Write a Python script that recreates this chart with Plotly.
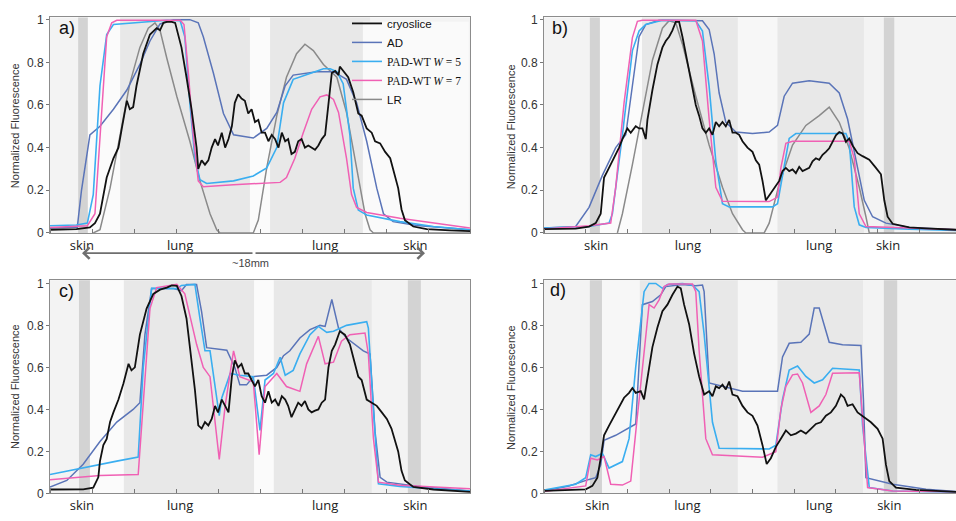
import plotly.graph_objects as go

# ---------------- data: normalized fluorescence profiles across the torso ----------------
# panel a
a_cryo_x = [0, 0.63, 0.95, 1.07, 1.19, 1.35, 1.51, 1.63, 1.71, 1.83, 1.9, 1.98, 2.06, 2.22, 2.38, 2.54, 2.62, 2.7, 2.78, 2.9,
            2.98, 3.06, 3.13, 3.25, 3.37, 3.49, 3.53, 3.61, 3.69, 3.77, 3.85, 3.93, 4.0, 4.09, 4.17, 4.25, 4.33, 4.4, 4.48, 4.56,
            4.64, 4.72, 4.8, 4.88, 4.96, 5.04, 5.12, 5.2, 5.28, 5.36, 5.44, 5.52, 5.6, 5.67, 5.75, 5.83, 5.91, 5.99, 6.07, 6.15,
            6.23, 6.31, 6.39, 6.47, 6.55, 6.63, 6.71, 6.79, 6.87, 6.9, 6.98, 7.1, 7.22, 7.34, 7.42, 7.54, 7.66, 7.74, 7.86, 7.98,
            8.1, 8.21, 8.29, 8.37, 8.45, 8.65, 8.97, 9.52, 10]
a_cryo_y = [0.015, 0.018, 0.026, 0.046, 0.09, 0.26, 0.35, 0.40, 0.49, 0.62, 0.58, 0.59, 0.69, 0.84, 0.93, 0.96, 0.95, 0.985, 0.99, 0.99,
            0.985, 0.93, 0.87, 0.73, 0.58, 0.40, 0.30, 0.34, 0.32, 0.34, 0.40, 0.44, 0.41, 0.47, 0.40, 0.44, 0.50, 0.61, 0.65, 0.63,
            0.62, 0.56, 0.58, 0.52, 0.53, 0.47, 0.47, 0.43, 0.46, 0.44, 0.40, 0.47, 0.43, 0.44, 0.37, 0.38, 0.43, 0.44, 0.40, 0.41,
            0.40, 0.39, 0.41, 0.44, 0.46, 0.61, 0.75, 0.76, 0.74, 0.78, 0.76, 0.73, 0.66, 0.56, 0.55, 0.49, 0.47, 0.43, 0.42, 0.38,
            0.35, 0.27, 0.21, 0.11, 0.06, 0.03, 0.018, 0.012, 0.008]
a_ad_x = [0, 0.65, 0.75, 0.95, 1.19, 1.51, 1.83, 2.14, 2.38, 2.62, 2.94, 3.33, 3.53, 3.65, 3.89, 4.13, 4.37, 4.84, 5.16, 5.4,
          5.6, 5.79, 6.35, 6.75, 7.06, 7.3, 7.54, 7.78, 7.94, 8.17, 8.73, 9.52, 10]
a_ad_y = [0.023, 0.027, 0.2, 0.46, 0.50, 0.58, 0.67, 0.79, 0.90, 0.98, 1.0, 1.0, 0.985, 0.92, 0.75, 0.56, 0.46, 0.445, 0.49, 0.565,
          0.69, 0.74, 0.756, 0.756, 0.72, 0.61, 0.43, 0.21, 0.09, 0.053, 0.035, 0.023, 0.015]
a_w5_x = [0, 0.63, 0.89, 1.03, 1.19, 1.35, 1.51, 1.98, 2.78, 3.1, 3.21, 3.33, 3.45, 3.57, 3.73, 4.37, 4.84, 5.16, 5.4, 5.56,
          5.79, 6.19, 6.51, 6.67, 6.83, 6.98, 7.14, 7.22, 7.34, 7.54, 8.33, 9.13, 10]
a_w5_y = [0.034, 0.037, 0.046, 0.18, 0.69, 0.93, 0.977, 0.985, 0.997, 0.995, 0.92, 0.61, 0.35, 0.25, 0.232, 0.244, 0.267, 0.305, 0.40, 0.61,
          0.72, 0.748, 0.77, 0.77, 0.756, 0.70, 0.46, 0.21, 0.107, 0.084, 0.053, 0.03, 0.015]
a_w7_x = [0, 0.89, 1.07, 1.19, 1.35, 1.47, 1.59, 3.1, 3.19, 3.29, 3.41, 3.53, 3.65, 4.37, 5.16, 5.48, 5.63, 5.83, 6.03, 6.23,
          6.43, 6.59, 6.75, 6.87, 7.06, 7.18, 7.3, 7.54, 8.33, 9.13, 10]
a_w7_y = [0.026, 0.034, 0.09, 0.46, 0.92, 0.985, 0.997, 0.997, 0.977, 0.76, 0.46, 0.244, 0.217, 0.226, 0.232, 0.237, 0.26, 0.35, 0.47, 0.58,
          0.638, 0.647, 0.626, 0.565, 0.35, 0.18, 0.12, 0.096, 0.069, 0.046, 0.023]
a_lr_x = [1.03, 1.19, 1.43, 1.67, 1.9, 2.14, 2.34, 2.5, 2.62, 2.78, 3.02, 3.33, 3.57, 3.81, 3.97, 4.05, 4.84, 4.96, 5.16, 5.4,
          5.63, 5.87, 6.07, 6.27, 6.51, 6.83, 7.06, 7.3, 7.5, 7.62, 7.7, 10]
a_lr_y = [0, 0.015, 0.21, 0.46, 0.70, 0.87, 0.96, 0.985, 0.95, 0.82, 0.64, 0.43, 0.244, 0.09, 0.015, 0, 0, 0.06, 0.305, 0.55,
          0.73, 0.84, 0.885, 0.855, 0.79, 0.73, 0.565, 0.305, 0.09, 0.015, 0, 0]

# panel b
b_cryo_x = [0, 0.76, 1.08, 1.24, 1.36, 1.44, 1.52, 1.6, 1.72, 1.8, 1.88, 2.0, 2.08, 2.2, 2.28, 2.36, 2.44, 2.48, 2.6, 2.72,
            2.84, 2.92, 3.0, 3.08, 3.16, 3.24, 3.32, 3.4, 3.52, 3.64, 3.72, 3.8, 3.88, 3.96, 4.04, 4.12, 4.2, 4.28, 4.36, 4.44,
            4.52, 4.6, 4.68, 4.76, 4.88, 5.0, 5.08, 5.16, 5.24, 5.32, 5.4, 5.52, 5.64, 5.72, 5.8, 5.88, 5.96, 6.04, 6.12, 6.2,
            6.28, 6.36, 6.44, 6.52, 6.6, 6.68, 6.76, 6.84, 6.92, 7.0, 7.08, 7.16, 7.24, 7.32, 7.4, 7.52, 7.64, 7.8, 7.96, 8.08,
            8.16, 8.24, 8.36, 8.76, 9.16, 9.88]
b_cryo_y = [0.018, 0.02, 0.03, 0.046, 0.09, 0.26, 0.29, 0.32, 0.37, 0.40, 0.44, 0.49, 0.47, 0.50, 0.49, 0.49, 0.44, 0.53, 0.67, 0.79,
            0.87, 0.90, 0.92, 0.95, 0.99, 0.99, 0.92, 0.84, 0.72, 0.60, 0.55, 0.49, 0.47, 0.49, 0.46, 0.52, 0.50, 0.52, 0.50, 0.53,
            0.47, 0.47, 0.46, 0.43, 0.40, 0.38, 0.34, 0.32, 0.244, 0.153, 0.176, 0.21, 0.244, 0.29, 0.305, 0.29, 0.298, 0.28, 0.31, 0.29,
            0.298, 0.305, 0.336, 0.35, 0.343, 0.366, 0.38, 0.397, 0.427, 0.458, 0.473, 0.466, 0.427, 0.443, 0.41, 0.374, 0.36, 0.343, 0.305, 0.275,
            0.153, 0.076, 0.043, 0.026, 0.021, 0.015]
b_ad_x = [0, 0.76, 1.08, 1.4, 1.72, 1.96, 2.12, 2.28, 2.44, 2.76, 3.8, 3.96, 4.08, 4.2, 4.36, 4.6, 5.0, 5.4, 5.6, 5.76,
          5.96, 6.36, 6.84, 7.08, 7.28, 7.48, 7.68, 7.88, 8.2, 8.76, 9.88]
b_ad_y = [0.023, 0.03, 0.12, 0.27, 0.40, 0.46, 0.69, 0.92, 0.977, 0.997, 0.995, 0.954, 0.84, 0.656, 0.519, 0.473, 0.466, 0.473, 0.504, 0.641,
          0.702, 0.714, 0.702, 0.656, 0.534, 0.336, 0.153, 0.076, 0.046, 0.026, 0.015]
b_w5_x = [0, 1.08, 1.56, 1.64, 1.88, 2.12, 2.28, 2.44, 2.84, 3.64, 3.8, 3.96, 4.12, 4.28, 4.44, 5.48, 5.6, 5.72, 5.88, 6.04,
          7.24, 7.32, 7.44, 7.56, 7.72, 8.76, 9.88]
b_w5_y = [0.023, 0.03, 0.046, 0.09, 0.46, 0.855, 0.947, 0.977, 0.997, 0.995, 0.947, 0.687, 0.336, 0.137, 0.122, 0.122, 0.137, 0.275, 0.443, 0.466,
          0.466, 0.427, 0.122, 0.038, 0.026, 0.018, 0.012]
b_w7_x = [0, 1.08, 1.6, 1.72, 1.92, 2.12, 2.24, 2.36, 3.64, 3.8, 3.96, 4.12, 4.28, 5.4, 5.6, 5.68, 5.8, 5.96, 7.32, 7.44,
          7.56, 7.72, 8.76, 9.88]
b_w7_y = [0.018, 0.034, 0.046, 0.214, 0.61, 0.916, 0.992, 0.997, 0.997, 0.90, 0.534, 0.214, 0.148, 0.147, 0.168, 0.305, 0.42, 0.43, 0.43, 0.35,
          0.09, 0.03, 0.023, 0.015]
b_lr_x = [1.76, 1.88, 2.12, 2.36, 2.6, 2.84, 3.0, 3.16, 3.32, 3.64, 3.96, 4.28, 4.52, 4.76, 4.84, 5.28, 5.4, 5.64, 5.96, 6.28,
          6.6, 6.84, 7.08, 7.32, 7.56, 7.72, 7.8, 9.88]
b_lr_y = [0, 0.09, 0.32, 0.565, 0.81, 0.96, 0.995, 0.985, 0.885, 0.641, 0.412, 0.214, 0.09, 0.015, 0, 0, 0.046, 0.229, 0.412, 0.504,
          0.55, 0.59, 0.519, 0.397, 0.214, 0.076, 0, 0]

# panel c
c_cryo_x = [0, 0.79, 1.03, 1.15, 1.19, 1.27, 1.35, 1.43, 1.51, 1.63, 1.75, 1.87, 1.94, 2.02, 2.14, 2.3, 2.46, 2.62, 2.78, 2.9,
            3.02, 3.13, 3.25, 3.37, 3.45, 3.53, 3.61, 3.69, 3.77, 3.85, 3.93, 4.0, 4.09, 4.17, 4.25, 4.33, 4.4, 4.48, 4.56, 4.64,
            4.72, 4.8, 4.88, 4.96, 5.04, 5.12, 5.2, 5.28, 5.36, 5.44, 5.52, 5.6, 5.67, 5.75, 5.83, 5.91, 5.99, 6.07, 6.15, 6.23,
            6.31, 6.39, 6.47, 6.55, 6.63, 6.71, 6.79, 6.9, 7.02, 7.14, 7.26, 7.34, 7.42, 7.54, 7.66, 7.78, 7.9, 8.02, 8.13, 8.21,
            8.29, 8.37, 8.45, 8.65, 9.13, 10]
c_cryo_y = [0.019, 0.02, 0.028, 0.077, 0.154, 0.23, 0.26, 0.34, 0.386, 0.447, 0.525, 0.617, 0.586, 0.60, 0.756, 0.88, 0.95, 0.97, 0.98, 0.99,
            0.988, 0.94, 0.833, 0.633, 0.494, 0.324, 0.309, 0.34, 0.324, 0.355, 0.417, 0.386, 0.447, 0.417, 0.386, 0.556, 0.633, 0.60, 0.617, 0.571,
            0.571, 0.54, 0.51, 0.54, 0.463, 0.432, 0.486, 0.432, 0.447, 0.417, 0.463, 0.447, 0.417, 0.363, 0.40, 0.432, 0.417, 0.44, 0.40, 0.386,
            0.394, 0.40, 0.432, 0.447, 0.60, 0.679, 0.71, 0.772, 0.756, 0.71, 0.617, 0.556, 0.54, 0.447, 0.432, 0.417, 0.386, 0.355, 0.309, 0.255,
            0.20, 0.108, 0.062, 0.031, 0.019, 0.008]
c_ad_x = [0, 0.4, 0.79, 1.19, 1.59, 1.98, 2.14, 2.26, 2.42, 2.94, 3.13, 3.25, 3.49, 3.61, 3.73, 4.21, 4.4, 4.52, 4.68, 4.84,
          5.16, 5.4, 5.56, 5.71, 5.95, 6.19, 6.43, 6.55, 6.71, 6.87, 7.06, 7.46, 7.62, 7.74, 7.86, 8.02, 8.73, 10]
c_ad_y = [0.031, 0.062, 0.139, 0.247, 0.34, 0.40, 0.432, 0.756, 0.975, 0.975, 0.965, 0.995, 0.995, 0.864, 0.694, 0.682, 0.60, 0.517, 0.517, 0.556,
          0.563, 0.60, 0.656, 0.679, 0.74, 0.78, 0.80, 0.795, 0.923, 0.787, 0.74, 0.679, 0.664, 0.293, 0.077, 0.054, 0.034, 0.012]
c_w5_x = [0, 0.79, 1.59, 2.1, 2.22, 2.42, 3.02, 3.13, 3.45, 3.57, 3.69, 3.81, 3.89, 4.03, 4.09, 4.29, 4.52, 4.84, 5.0, 5.12,
          5.32, 5.48, 5.6, 5.79, 5.95, 6.19, 6.39, 6.59, 6.75, 7.06, 7.54, 7.58, 7.7, 7.82, 8.33, 9.13, 10]
c_w5_y = [0.09, 0.123, 0.154, 0.173, 0.60, 0.977, 0.975, 0.99, 0.995, 0.833, 0.679, 0.679, 0.571, 0.37, 0.455, 0.571, 0.563, 0.556, 0.30, 0.54,
          0.571, 0.648, 0.563, 0.586, 0.664, 0.756, 0.795, 0.767, 0.772, 0.80, 0.818, 0.787, 0.40, 0.046, 0.034, 0.023, 0.011]
c_w7_x = [0, 1.19, 2.1, 2.22, 2.38, 2.54, 3.02, 3.21, 3.4, 3.49, 3.65, 3.81, 4.03, 4.17, 4.37, 4.52, 4.84, 4.98, 5.12, 5.4,
          5.63, 5.95, 6.11, 6.39, 6.55, 6.75, 6.94, 7.14, 7.5, 7.58, 7.7, 7.82, 8.33, 9.13, 10]
c_w7_y = [0.065, 0.085, 0.09, 0.447, 0.88, 0.98, 0.995, 0.95, 0.787, 0.71, 0.60, 0.556, 0.162, 0.417, 0.679, 0.556, 0.532, 0.185, 0.509, 0.571,
          0.509, 0.486, 0.617, 0.748, 0.617, 0.625, 0.725, 0.756, 0.764, 0.664, 0.262, 0.054, 0.039, 0.031, 0.023]

# panel d
d_cryo_x = [0, 0.76, 1.0, 1.16, 1.28, 1.36, 1.44, 1.56, 1.68, 1.8, 1.92, 2.04, 2.12, 2.2, 2.32, 2.4, 2.48, 2.6, 2.72, 2.84,
            2.96, 3.08, 3.2, 3.28, 3.36, 3.48, 3.6, 3.72, 3.84, 3.96, 4.04, 4.12, 4.2, 4.28, 4.36, 4.44, 4.52, 4.64, 4.76, 4.88,
            5.0, 5.12, 5.24, 5.34, 5.44, 5.56, 5.68, 5.8, 5.92, 6.04, 6.16, 6.28, 6.4, 6.52, 6.64, 6.76, 6.88, 7.0, 7.12, 7.2,
            7.28, 7.4, 7.52, 7.68, 7.84, 8.0, 8.12, 8.2, 8.28, 8.44, 8.92, 9.88]
d_cryo_y = [0.012, 0.016, 0.02, 0.036, 0.075, 0.168, 0.277, 0.323, 0.37, 0.417, 0.456, 0.479, 0.502, 0.479, 0.487, 0.448, 0.557, 0.697, 0.79, 0.868,
            0.899, 0.946, 0.985, 0.977, 0.899, 0.806, 0.666, 0.557, 0.471, 0.487, 0.463, 0.51, 0.502, 0.518, 0.495, 0.533, 0.471, 0.463, 0.417, 0.386,
            0.37, 0.323, 0.23, 0.14, 0.168, 0.222, 0.261, 0.30, 0.277, 0.285, 0.30, 0.285, 0.308, 0.331, 0.339, 0.37, 0.386, 0.417, 0.471, 0.456,
            0.417, 0.425, 0.386, 0.362, 0.339, 0.308, 0.261, 0.137, 0.059, 0.028, 0.017, 0.008]
d_ad_x = [0, 0.6, 1.08, 1.24, 1.36, 1.44, 1.72, 2.2, 2.36, 2.6, 2.8, 2.92, 3.32, 3.64, 3.8, 3.84, 3.96, 4.12, 4.76, 5.6,
          5.72, 5.88, 6.16, 6.36, 6.48, 6.6, 6.84, 7.16, 7.6, 7.66, 7.72, 8.36, 9.16, 9.88]
d_ad_y = [0.012, 0.036, 0.067, 0.075, 0.137, 0.253, 0.277, 0.331, 0.899, 0.914, 0.946, 0.985, 0.995, 0.989, 0.992, 0.961, 0.526, 0.518, 0.487, 0.487,
          0.65, 0.715, 0.72, 0.759, 0.883, 0.883, 0.72, 0.708, 0.705, 0.448, 0.075, 0.044, 0.02, 0.009]
d_w5_x = [0, 0.76, 1.0, 1.12, 1.24, 1.4, 1.56, 1.88, 2.04, 2.2, 2.4, 2.52, 2.68, 2.84, 2.96, 3.32, 3.56, 3.72, 3.84, 4.04,
          4.2, 5.4, 5.56, 5.72, 5.88, 6.08, 6.28, 6.48, 6.68, 6.92, 7.56, 7.64, 7.8, 8.36, 9.88]
d_w5_y = [0.016, 0.044, 0.075, 0.184, 0.176, 0.191, 0.121, 0.152, 0.261, 0.603, 0.961, 1.0, 1.0, 0.977, 0.995, 1.0, 0.992, 0.961, 0.759, 0.339,
          0.215, 0.212, 0.23, 0.448, 0.588, 0.607, 0.557, 0.526, 0.541, 0.596, 0.588, 0.323, 0.028, 0.012, 0.006]
d_w7_x = [0, 0.76, 1.0, 1.12, 1.28, 1.44, 1.6, 1.88, 2.08, 2.2, 2.36, 2.52, 2.64, 2.76, 2.88, 3.0, 3.56, 3.64, 3.72, 3.88,
          4.04, 5.24, 5.56, 5.68, 5.8, 5.96, 6.08, 6.2, 6.4, 6.6, 6.76, 6.92, 7.56, 7.64, 7.76, 8.36, 9.88]
d_w7_y = [0.009, 0.028, 0.036, 0.168, 0.16, 0.176, 0.044, 0.04, 0.059, 0.292, 0.603, 0.899, 0.883, 0.922, 0.985, 0.997, 0.997, 0.961, 0.681, 0.261,
          0.184, 0.173, 0.199, 0.401, 0.51, 0.565, 0.569, 0.526, 0.386, 0.417, 0.471, 0.572, 0.575, 0.355, 0.028, 0.012, 0.008]

# tissue annotations along each profile
a_labels_x = [0.76, 3.1, 6.55, 8.7]
b_labels_x = [1.25, 3.45, 6.6, 8.25]
c_labels_x = [0.76, 3.1, 6.55, 8.7]
d_labels_x = [1.28, 3.44, 6.6, 8.28]
tissue_labels = ["skin", "lung", "lung", "skin"]
y_ticks = [0, 0.2, 0.4, 0.6, 0.8, 1.0]
y_tick_text = ["0", "0.2", "0.4", "0.6", "0.8", "1"]

for xs, ys in [(a_cryo_x, a_cryo_y), (a_ad_x, a_ad_y), (a_w5_x, a_w5_y), (a_w7_x, a_w7_y), (a_lr_x, a_lr_y),
               (b_cryo_x, b_cryo_y), (b_ad_x, b_ad_y), (b_w5_x, b_w5_y), (b_w7_x, b_w7_y), (b_lr_x, b_lr_y),
               (c_cryo_x, c_cryo_y), (c_ad_x, c_ad_y), (c_w5_x, c_w5_y), (c_w7_x, c_w7_y),
               (d_cryo_x, d_cryo_y), (d_ad_x, d_ad_y), (d_w5_x, d_w5_y), (d_w7_x, d_w7_y)]:
    assert len(xs) == len(ys), (len(xs), len(ys))

# ---------------- styling ----------------
W, H = 956, 521
C_CRYO = "#111111"
C_AD = "#5a74b8"
C_W5 = "#3aaef0"
C_W7 = "#f060b4"
C_LR = "#8a8a8a"
BASE = "#f3f3f3"
LIGHT = "#fbfbfb"
LUNG = "#e8e8e8"
SKIN = "#d3d3d3"
SERIF = "Liberation Serif"

legend_names = {
    "cryo": "cryoslice",
    "ad": "AD",
    "w5": f'<span style="font-family:{SERIF}">PAD-WT <i>W</i> = 5</span>',
    "w7": f'<span style="font-family:{SERIF}">PAD-WT <i>W</i> = 7</span>',
    "lr": "LR",
}


def px_x(p):
    return p / W


def px_y(p):
    return (H - p) / H


fig = go.Figure()

panels = [
    dict(ax="", series=[("lr", a_lr_x, a_lr_y), ("ad", a_ad_x, a_ad_y), ("w5", a_w5_x, a_w5_y), ("w7", a_w7_x, a_w7_y), ("cryo", a_cryo_x, a_cryo_y)]),
    dict(ax="2", series=[("lr", b_lr_x, b_lr_y), ("ad", b_ad_x, b_ad_y), ("w5", b_w5_x, b_w5_y), ("w7", b_w7_x, b_w7_y), ("cryo", b_cryo_x, b_cryo_y)]),
    dict(ax="3", series=[("ad", c_ad_x, c_ad_y), ("w5", c_w5_x, c_w5_y), ("w7", c_w7_x, c_w7_y), ("cryo", c_cryo_x, c_cryo_y)]),
    dict(ax="4", series=[("ad", d_ad_x, d_ad_y), ("w5", d_w5_x, d_w5_y), ("w7", d_w7_x, d_w7_y), ("cryo", d_cryo_x, d_cryo_y)]),
]
colors = {"cryo": C_CRYO, "ad": C_AD, "w5": C_W5, "w7": C_W7, "lr": C_LR}
widths = {"cryo": 1.8, "ad": 1.5, "w5": 1.6, "w7": 1.5, "lr": 1.5}
legend_order = {"cryo": 1, "ad": 2, "w5": 3, "w7": 4, "lr": 5}

for i, p in enumerate(panels):
    for key, xs, ys in p["series"]:
        fig.add_trace(go.Scatter(
            x=xs, y=ys, mode="lines", name=legend_names[key],
            line=dict(color=colors[key], width=widths[key]),
            xaxis="x" + p["ax"], yaxis="y" + p["ax"],
            showlegend=(i == 0), legendrank=legend_order[key],
        ))

# background bands: (x0, x1, colour, y_top)
a_bands = [(0.9, 1.67, LIGHT, 1.02), (0.67, 0.9, SKIN, 1.02), (1.67, 4.76, LUNG, 1.02), (4.76, 5.24, LIGHT, 1.02),
           (5.24, 7.62, LUNG, 1.02), (8.52, 8.81, SKIN, 0.69), (7.45, 9.97, "#fafafa", 0.99)]
b_bands = [(1.34, 2.35, LIGHT, 1.02), (1.1, 1.34, SKIN, 1.02), (2.35, 4.65, LUNG, 1.02), (4.65, 5.6, "#f7f7f7", 1.02),
           (5.6, 7.67, LUNG, 1.02), (8.15, 8.4, SKIN, 1.02)]
c_bands = [(0.95, 1.76, LIGHT, 1.02), (0.69, 0.95, SKIN, 1.02), (1.76, 4.86, LUNG, 1.02), (4.86, 5.33, LIGHT, 1.02),
           (5.33, 7.66, LUNG, 1.02), (8.52, 8.83, SKIN, 1.02)]
d_bands = [(1.39, 2.3, "#f7f7f7", 1.02), (1.1, 1.39, SKIN, 1.02), (2.3, 4.65, LUNG, 1.02), (4.65, 5.6, "#f7f7f7", 1.02),
           (5.6, 7.65, LUNG, 1.02), (8.15, 8.47, SKIN, 1.02)]

shapes = []
for ax, bands in [("", a_bands), ("2", b_bands), ("3", c_bands), ("4", d_bands)]:
    for x0, x1, col, ytop in bands:
        shapes.append(dict(type="rect", xref="x" + ax, yref="y" + ax, x0=x0, x1=x1, y0=0, y1=ytop,
                           fillcolor=col, line=dict(width=0), layer="below"))

# domains in pixels
dom_x_left = [px_x(50), px_x(470)]
dom_x_right = [px_x(544), 1.0]
dom_y_top = [px_y(233.3), px_y(12.7)]
dom_y_bot = [px_y(500), px_y(281.7)]

axis_font = dict(family="Liberation Sans, Arial, sans-serif", size=12, color="#333333")
label_font = dict(family="Open Sans, sans-serif", size=13, color="#222222")


def xaxis(domain, anchor, rng, labels_x):
    return dict(domain=domain, anchor=anchor, range=rng, showgrid=False, zeroline=False,
                showline=True, linecolor="#8c8c8c", linewidth=1, mirror=True,
                tickmode="array", tickvals=labels_x, ticktext=tissue_labels, ticks="",
                tickfont=label_font,
                minor=dict(tickmode="array", tickvals=list(range(0, 11)), ticks="inside",
                           ticklen=4, tickcolor="#777777", tickwidth=1))


def yaxis(domain, anchor, top, mirror):
    return dict(domain=domain, anchor=anchor, range=[0, top], showgrid=False, zeroline=False,
                showline=True, linecolor="#8c8c8c", linewidth=1, mirror=mirror,
                tickmode="array", tickvals=y_ticks, ticktext=y_tick_text, ticks="outside",
                ticklen=3, tickcolor="#777777", tickfont=axis_font)


annotations = []
# panel letters
for txt, x, y in [("a)", 57, 24), ("b)", 550, 24), ("c)", 57, 293), ("d)", 548, 292)]:
    annotations.append(dict(text=txt, xref="paper", yref="paper", x=px_x(x), y=px_y(y), xanchor="left",
                            yanchor="middle", showarrow=False,
                            font=dict(family="Liberation Sans, Arial, sans-serif", size=18, color="#111111")))
# y-axis titles
for x, y in [(15, 124), (511, 124), (15, 391), (511, 391)]:
    annotations.append(dict(text="Normalized Fluorescence", xref="paper", yref="paper", x=px_x(x), y=px_y(y),
                            xanchor="center", yanchor="middle", textangle=-90, showarrow=False,
                            font=dict(family="Liberation Sans, Arial, sans-serif", size=11, color="#333333")))
# distance arrow under panel a (two heads drawn from the middle outwards)
arrow_y = px_y(254)
arrow_mid = 254
for head in (425, 82):
    annotations.append(dict(text="", xref="paper", yref="paper", axref="pixel", ayref="pixel",
                            x=px_x(head), y=arrow_y, ax=arrow_mid - head, ay=0, showarrow=True,
                            arrowhead=4, arrowsize=1.4, arrowwidth=1.6, arrowcolor="#6f6f6f"))
annotations.append(dict(text="~18mm", xref="paper", yref="paper", x=px_x(250), y=px_y(264),
                        xanchor="center", yanchor="middle", showarrow=False,
                        font=dict(family="Liberation Sans, Arial, sans-serif", size=11, color="#444444")))

fig.update_layout(
    width=W, height=H, margin=dict(l=0, r=0, t=0, b=0),
    paper_bgcolor="white", plot_bgcolor=BASE,
    xaxis=xaxis(dom_x_left, "y", [0, 10], a_labels_x),
    yaxis=yaxis(dom_y_top, "x", 1.0105, True),
    xaxis2=xaxis(dom_x_right, "y2", [0, 9.88], b_labels_x),
    yaxis2=yaxis(dom_y_top, "x2", 1.0105, False),
    xaxis3=xaxis(dom_x_left, "y3", [0, 10], c_labels_x),
    yaxis3=yaxis(dom_y_bot, "x3", 1.015, True),
    xaxis4=xaxis(dom_x_right, "y4", [0, 9.88], d_labels_x),
    yaxis4=yaxis(dom_y_bot, "x4", 1.0154, False),
    shapes=shapes, annotations=annotations,
    legend=dict(x=px_x(347), y=px_y(4), xanchor="left", yanchor="top", bgcolor="rgba(0,0,0,0)",
                borderwidth=0, tracegroupgap=0, itemwidth=30,
                font=dict(family="Liberation Sans, Arial, sans-serif", size=11.5, color="#111111")),
)

fig.write_html("out.html")
